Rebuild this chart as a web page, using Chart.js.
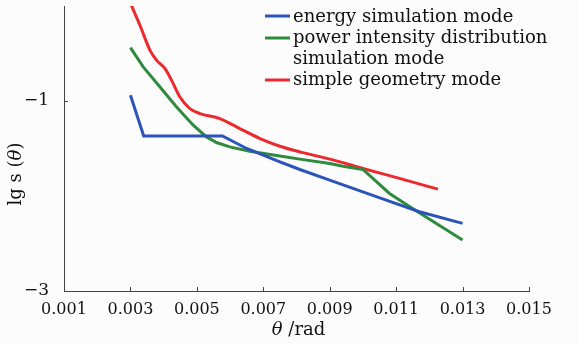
<!DOCTYPE html>
<html>
<head>
<meta charset="utf-8">
<script src="https://cdn.jsdelivr.net/npm/chart.js@4/dist/chart.umd.min.js"></script>
<style>
  html, body { margin: 0; padding: 0; background: #fcfcfc; }
  #wrap { width: 578px; height: 344px; position: relative; }
</style>
</head>
<body>
<div id="wrap"><canvas id="modeChart"></canvas></div>
<script>
// theta (rad) and lg s(theta) for each model
const thetaEnergy = [0.003, 0.0034, 0.00577, 0.0065, 0.0075, 0.0081, 0.009, 0.0097, 0.0107, 0.0117, 0.013];
const lgEnergy    = [-0.94, -1.368, -1.368, -1.50, -1.641, -1.721, -1.833, -1.92, -2.043, -2.166, -2.288];

const thetaPower = [0.003, 0.00339, 0.00389, 0.00439, 0.00489, 0.00529, 0.00559, 0.00599, 0.00659, 0.0075, 0.0081, 0.009, 0.0094, 0.010, 0.0108, 0.0116, 0.013];
const lgPower    = [-0.439, -0.643, -0.853, -1.063, -1.255, -1.378, -1.437, -1.483, -1.528, -1.578, -1.612, -1.658, -1.686, -1.721, -1.973, -2.155, -2.463];

const thetaGeom = [0.003, 0.00329, 0.00359, 0.00379, 0.00404, 0.00424, 0.00449, 0.00479, 0.00509, 0.00569, 0.00629, 0.0069, 0.0075, 0.0081, 0.009, 0.010, 0.0111, 0.01226];
const lgGeom    = [0.03, -0.205, -0.467, -0.572, -0.66, -0.783, -0.958, -1.08, -1.132, -1.185, -1.29, -1.395, -1.476, -1.536, -1.612, -1.71, -1.815, -1.928];

const xTicks = [0.001, 0.003, 0.005, 0.007, 0.009, 0.011, 0.013, 0.015];
const yTicks = [-3, -1];

const seriesNames = ['energy simulation mode', ['power intensity distribution', 'simulation mode'], 'simple geometry mode'];
const seriesColors = ['#2a54b8', '#2f8a3e', '#ec2a2e'];

const serif = "'DejaVu Serif', serif";
const toPoints = (xs, ys) => xs.map((x, i) => ({ x: x, y: ys[i] }));

// axis titles, inward tick marks and the legend block
const decorations = {
  id: 'decorations',
  afterDraw(chart) {
    const ctx = chart.ctx;
    const xs = chart.scales.x, ys = chart.scales.y;
    ctx.save();

    ctx.strokeStyle = '#444';
    ctx.lineWidth = 1;
    ctx.beginPath();
    xTicks.slice(1).forEach(v => {
      const px = Math.round(xs.getPixelForValue(v)) + 0.5;
      ctx.moveTo(px, ys.bottom);
      ctx.lineTo(px, ys.bottom - 4);
    });
    yTicks.slice(1).forEach(v => {
      const py = Math.round(ys.getPixelForValue(v)) + 0.5;
      ctx.moveTo(xs.left, py);
      ctx.lineTo(xs.left + 4, py);
    });
    ctx.stroke();

    ctx.fillStyle = '#111';
    ctx.textBaseline = 'alphabetic';

    // x title: "θ /rad"
    ctx.font = 'italic 18px ' + serif;
    const thW = ctx.measureText('θ').width;
    ctx.font = '18px ' + serif;
    const restW = ctx.measureText(' /rad').width;
    let tx = (xs.left + xs.right) / 2 - (thW + restW) / 2 + 2;
    ctx.font = 'italic 18px ' + serif;
    ctx.fillText('θ', tx, 335);
    ctx.font = '18px ' + serif;
    ctx.fillText(' /rad', tx + thW, 335);

    // y title: "lg s (θ)" rotated
    ctx.save();
    ctx.translate(21, 174);
    ctx.rotate(-Math.PI / 2);
    ctx.font = '18px ' + serif;
    const a = 'lg s (', b = 'θ', c = ')';
    const aw = ctx.measureText(a).width, cw = ctx.measureText(c).width;
    ctx.font = 'italic 18px ' + serif;
    const bw = ctx.measureText(b).width;
    let sx = -(aw + bw + cw) / 2;
    ctx.font = '18px ' + serif;
    ctx.fillText(a, sx, 0);
    ctx.font = 'italic 18px ' + serif;
    ctx.fillText(b, sx + aw, 0);
    ctx.font = '18px ' + serif;
    ctx.fillText(c, sx + aw + bw, 0);
    ctx.restore();

    // legend
    ctx.font = '18px ' + serif;
    const rows = [[22], [43, 64], [85]];
    const lineY = [16, 38, 80];
    seriesNames.forEach((name, i) => {
      const lines = Array.isArray(name) ? name : [name];
      ctx.strokeStyle = seriesColors[i];
      ctx.lineWidth = 3;
      ctx.beginPath();
      ctx.moveTo(265, lineY[i]);
      ctx.lineTo(290, lineY[i]);
      ctx.stroke();
      lines.forEach((t, j) => ctx.fillText(t, 293, rows[i][j]));
    });
    ctx.restore();
  }
};

new Chart(document.getElementById('modeChart'), {
  type: 'line',
  data: {
    datasets: [
      { label: 'energy simulation mode', data: toPoints(thetaEnergy, lgEnergy), borderColor: seriesColors[0], tension: 0 },
      { label: 'power intensity distribution simulation mode', data: toPoints(thetaPower, lgPower), borderColor: seriesColors[1], tension: 0 },
      { label: 'simple geometry mode', data: toPoints(thetaGeom, lgGeom), borderColor: seriesColors[2], cubicInterpolationMode: 'monotone' }
    ]
  },
  options: {
    responsive: true,
    maintainAspectRatio: false,
    animation: false,
    datasets: { line: { borderWidth: 3, pointRadius: 0, fill: false } },
    layout: { padding: { left: 0, right: 49, top: 6, bottom: 0 } },
    plugins: { legend: { display: false }, tooltip: { enabled: false } },
    scales: {
      x: {
        type: 'linear',
        min: 0.001,
        max: 0.015,
        afterBuildTicks: s => { s.ticks = xTicks.map(v => ({ value: v })); },
        afterFit: s => { s.height = 53; s.paddingLeft = 0; s.paddingRight = 0; },
        grid: { display: false },
        border: { display: true, color: '#444', width: 1 },
        ticks: { color: '#111', padding: 1, maxRotation: 0, font: { family: serif, size: 16 }, callback: v => v.toFixed(3) }
      },
      y: {
        type: 'linear',
        min: -3,
        max: 0,
        afterBuildTicks: s => { s.ticks = yTicks.map(v => ({ value: v })); },
        afterFit: s => { s.width = 64; s.paddingTop = 0; s.paddingBottom = 0; },
        grid: { display: false },
        border: { display: true, color: '#444', width: 1 },
        ticks: { color: '#111', padding: 7, font: { family: serif, size: 17 }, callback: v => String(v).replace('-', '\u2212') }
      }
    }
  },
  plugins: [decorations]
});
</script>
</body>
</html>
